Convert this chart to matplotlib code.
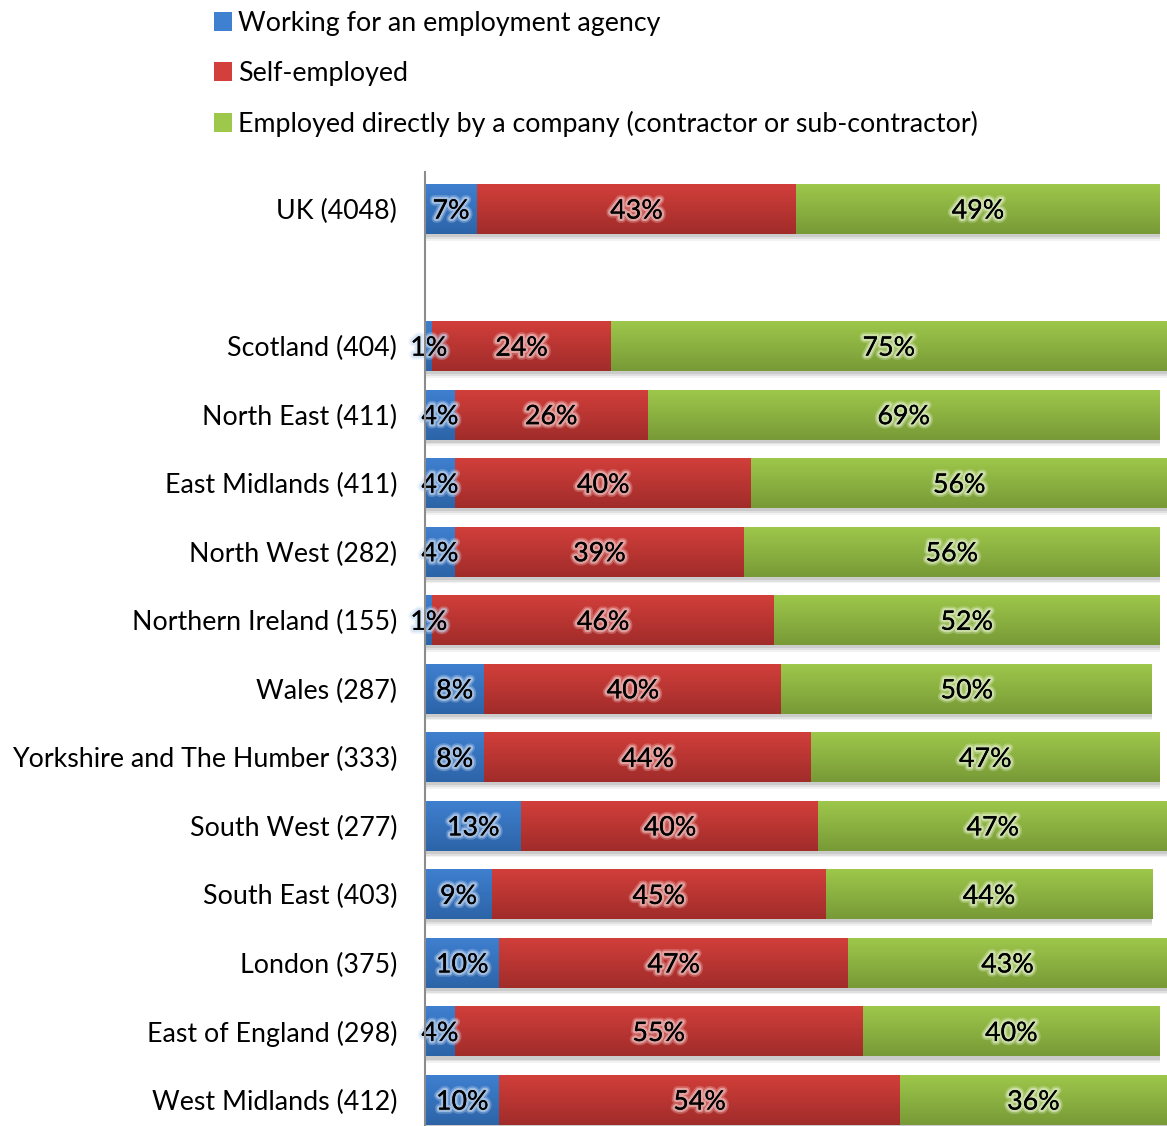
import numpy as np
import matplotlib
matplotlib.use("Agg")
import matplotlib.pyplot as plt
import matplotlib.patheffects as pe
from matplotlib.colors import to_rgb, LinearSegmentedColormap
from matplotlib.patches import Patch

plt.rcParams['font.family'] = ['Lato', 'DejaVu Sans']

# Regions with sample sizes; the blank entry leaves a gap below the UK total
categories = [
    "UK (4048)", "",
    "Scotland (404)", "North East (411)", "East Midlands (411)",
    "North West (282)", "Northern Ireland (155)", "Wales (287)",
    "Yorkshire and The Humber (333)", "South West (277)", "South East (403)",
    "London (375)", "East of England (298)", "West Midlands (412)",
]
agency = [7, None, 1, 4, 4, 4, 1, 8, 8, 13, 9, 10, 4, 10]
self_employed = [43, None, 24, 26, 40, 39, 46, 40, 44, 40, 45, 47, 55, 54]
direct = [49, None, 75, 69, 56, 56, 52, 50, 47, 47, 44, 43, 40, 36]

series_names = [
    "Working for an employment agency",
    "Self-employed",
    "Employed directly by a company (contractor or sub-contractor)",
]
# (top, bottom) colours of each series' vertical gradient
series_colors = [
    ("#3f80d0", "#2d64a8"),
    ("#d33f3b", "#a02c2a"),
    ("#9ec84b", "#789a37"),
]

fig = plt.figure(figsize=(11.67, 11.26), dpi=100)
ax = fig.add_axes([425 / 1167, 0.0, 1 - 425 / 1167, 1 - 172 / 1126])

bar_h = 0.73
fs = 19.3
y = np.arange(len(categories))


def lighten(c, amt):
    r, g, b = to_rgb(c)
    return (r + (1 - r) * amt, g + (1 - g) * amt, b + (1 - b) * amt)


grad = np.linspace(0, 1, 64).reshape(-1, 1)
series_values = [agency, self_employed, direct]
left = np.zeros(len(categories))
for si, vals in enumerate(series_values):
    top_c, bot_c = series_colors[si]
    cmap = LinearSegmentedColormap.from_list(f"g{si}", [top_c, bot_c])
    for i, v in enumerate(vals):
        if v is None:
            continue
        # soft drop shadow under each segment
        for k, a in enumerate([0.05, 0.07, 0.09]):
            off = 0.02 + 0.025 * (3 - k)
            ax.barh(y[i] + off, v, left=left[i], height=bar_h,
                    color="black", alpha=a, linewidth=0, zorder=1)
        bar = ax.barh(y[i], v, left=left[i], height=bar_h,
                      color=top_c, linewidth=0, zorder=2)[0]
        im = ax.imshow(grad, cmap=cmap, aspect="auto",
                       extent=(left[i], left[i] + v,
                               y[i] + bar_h / 2, y[i] - bar_h / 2),
                       zorder=3, interpolation="bilinear")
        im.set_clip_path(bar)
        # soft light glow behind each value label
        glow = lighten(top_c, 0.72)
        ax.text(left[i] + v / 2, y[i] + 0.03, f"{v}%", ha="center",
                va="center", fontsize=fs, color="black", zorder=5,
                path_effects=[
                    pe.withStroke(linewidth=6, foreground=glow, alpha=0.3),
                    pe.withStroke(linewidth=3.5, foreground=glow, alpha=0.6),
                    pe.Normal(),
                ])
        left[i] += v

ax.set_xlim(0, 100)
ax.set_ylim(13 + 26 / 68.5, -0.54)
ax.set_yticks(y)
ax.set_yticklabels(categories, fontsize=fs)
ax.tick_params(axis="y", length=0, pad=20)
ax.set_xticks([])
for s in ["top", "right", "bottom"]:
    ax.spines[s].set_visible(False)
ax.spines["left"].set_color("#8c8c8c")
ax.spines["left"].set_linewidth(1.5)
ax.spines["left"].set_zorder(6)

handles = [Patch(facecolor=c[0], edgecolor="none") for c in series_colors]
fig.legend(handles, series_names, loc="upper left",
           bbox_to_anchor=(203 / 1167, 1 - 0 / 1126), frameon=False,
           fontsize=fs, handlelength=0.7, handleheight=0.7,
           handletextpad=0.22, labelspacing=0.93, borderaxespad=0)

fig.savefig("out.png", dpi=100)
